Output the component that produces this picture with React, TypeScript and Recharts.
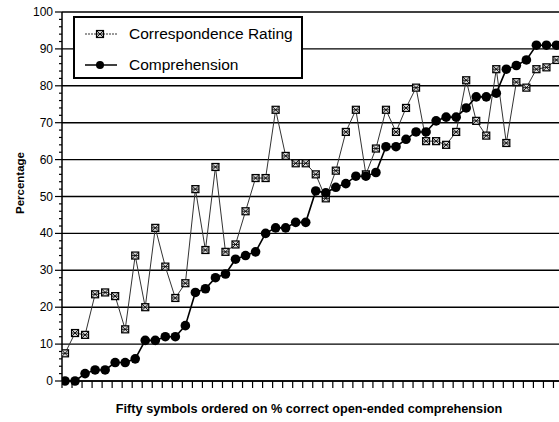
import React from 'react';
import { LineChart, Line, XAxis, YAxis, CartesianGrid, Legend, Label } from 'recharts';

// values (50 symbols, ordered by comprehension)
const correspondence = [
  7.5, 13, 12.5, 23.5, 24, 23, 14, 34, 20, 41.5,
  31, 22.5, 26.5, 52, 35.5, 58, 35, 37, 46, 55,
  55, 73.5, 61, 59, 59, 56, 49.5, 57, 67.5, 73.5,
  56, 63, 73.5, 67.5, 74, 79.5, 65, 65, 64, 67.5,
  81.5, 70.5, 66.5, 84.5, 64.5, 81, 79.5, 84.5, 85, 87,
];
const comprehension = [
  0, 0, 2, 3, 3, 5, 5, 6, 11, 11,
  12, 12, 15, 24, 25, 28, 29, 33, 34, 35,
  40, 41.5, 41.5, 43, 43, 51.5, 51, 52.5, 53.5, 55.5,
  55.5, 56.5, 63.5, 63.5, 65.5, 67.5, 67.5, 70.5, 71.5, 71.5,
  74, 77, 77, 78, 84.5, 85.5, 87, 91, 91, 91,
];
const symbolIndex = correspondence.map((_, i) => i + 1);
const yLabels = [0, 10, 20, 30, 40, 50, 60, 70, 80, 90, 100];
const yMinorTicks = Array.from({ length: 51 }, (_, i) => i * 2);
const xTicks = Array.from({ length: 51 }, (_, i) => i + 0.7);

const seriesNames = { corr: 'Correspondence Rating', comp: 'Comprehension' };
const xTitle = 'Fifty symbols ordered on % correct open-ended comprehension';
const yTitle = 'Percentage';

const data = symbolIndex.map((n, i) => ({
  n,
  corr: correspondence[i],
  comp: comprehension[i],
}));

const FONT = '"Liberation Sans", Arial, Helvetica, sans-serif';

// hatched square, like the scanned marker
const SquareMark = ({ cx, cy }: { cx: number; cy: number }) => (
  <g>
    <rect x={cx - 3.5} y={cy - 3.5} width={7} height={7} fill="#d8d8d8" stroke="#000" strokeWidth={1.2} />
    <line x1={cx - 3.5} y1={cy - 3.5} x2={cx + 3.5} y2={cy + 3.5} stroke="#000" strokeWidth={0.9} />
    <line x1={cx + 3.5} y1={cy - 3.5} x2={cx - 3.5} y2={cy + 3.5} stroke="#000" strokeWidth={0.9} />
    <line x1={cx - 3.5} y1={cy} x2={cx + 3.5} y2={cy} stroke="#000" strokeWidth={0.8} />
  </g>
);

const YTick = (props: any) => {
  const { x, y, payload } = props;
  const ax = x + 9;
  const major = payload.value % 10 === 0;
  return (
    <g>
      <line x1={ax - (major ? 7 : 3)} x2={ax} y1={y} y2={y} stroke="#000" strokeWidth={1.2} />
      {major && yLabels.includes(payload.value) && (
        <text x={x} y={y} dy={4} textAnchor="end" fontSize={12} fill="#000" fontFamily={FONT}>
          {payload.value}
        </text>
      )}
    </g>
  );
};

const LegendBox = () => (
  <div
    style={{
      width: 230,
      height: 63,
      boxSizing: 'border-box',
      border: '2px solid #000',
      background: '#fff',
      fontFamily: FONT,
      fontSize: 15.5,
      color: '#000',
      position: 'relative',
    }}
  >
    {[
      { name: seriesNames.corr, top: 16, kind: 'sq' },
      { name: seriesNames.comp, top: 47, kind: 'dot' },
    ].map((r) => (
      <div key={r.name} style={{ position: 'absolute', left: 10, top: r.top - 10, height: 20, display: 'flex', alignItems: 'center' }}>
        <svg width={32} height={20} style={{ display: 'block' }}>
          {r.kind === 'sq' ? (
            <>
              <line x1={0} x2={32} y1={10} y2={10} stroke="#333" strokeWidth={1} strokeDasharray="2 1" />
              <SquareMark cx={15} cy={10} />
            </>
          ) : (
            <>
              <line x1={0} x2={32} y1={10} y2={10} stroke="#000" strokeWidth={1.5} />
              <circle cx={15} cy={10} r={4} fill="#000" />
            </>
          )}
        </svg>
        <span style={{ marginLeft: 12, whiteSpace: 'nowrap' }}>{r.name}</span>
      </div>
    ))}
  </div>
);

export default function App() {
  return (
    <div style={{ position: 'absolute', left: 0, top: 0, width: 559, height: 422, overflow: 'hidden', background: '#fff' }}>
      <LineChart
        width={572}
        height={422}
        data={data}
        margin={{ top: 12, right: 6, bottom: 0, left: 0 }}
        style={{ fontFamily: FONT }}
      >
        <CartesianGrid horizontal vertical={false} horizontalValues={yLabels} stroke="#000" strokeWidth={1.4} />
        <XAxis
          type="number"
          dataKey="n"
          domain={[0.7, 50.95]}
          ticks={xTicks}
          interval={0}
          height={41}
          tickSize={7}
          tickFormatter={() => ''}
          axisLine={{ stroke: '#000', strokeWidth: 1.5 }}
          tickLine={{ stroke: '#000', strokeWidth: 1.2 }}
          allowDataOverflow
        >
          <Label
            content={() => (
              <text x={309} y={413} textAnchor="middle" fontSize={12.7} fontWeight="bold" fill="#000" fontFamily={FONT}>
                {xTitle}
              </text>
            )}
          />
        </XAxis>
        <YAxis
          type="number"
          domain={[0, 100]}
          ticks={yMinorTicks}
          interval={0}
          width={62}
          tickSize={7}
          tickMargin={2}
          tickLine={false}
          tick={<YTick />}
          axisLine={{ stroke: '#000', strokeWidth: 1.5 }}
        >
          <Label
            content={() => (
              <text
                x={20}
                y={183}
                transform="rotate(-90 20 183)"
                textAnchor="middle"
                dominantBaseline="central"
                fontSize={11.5}
                fontWeight="bold"
                fill="#000"
                fontFamily={FONT}
              >
                {yTitle}
              </text>
            )}
          />
        </YAxis>
        <Legend
          layout="vertical"
          align="center"
          verticalAlign="middle"
          content={() => <LegendBox />}
          wrapperStyle={{ left: 73, top: 16, width: 230, height: 63 }}
        />
        <Line
          dataKey="corr"
          name={seriesNames.corr}
          stroke="#333"
          strokeWidth={1}
          isAnimationActive={false}
          dot={(p: any) => <SquareMark key={`c${p.index}`} cx={p.cx} cy={p.cy} />}
        />
        <Line
          dataKey="comp"
          name={seriesNames.comp}
          stroke="#000"
          strokeWidth={1.6}
          isAnimationActive={false}
          dot={(p: any) => <circle key={`p${p.index}`} cx={p.cx} cy={p.cy} r={4.8} fill="#000" />}
        />
      </LineChart>
    </div>
  );
}
